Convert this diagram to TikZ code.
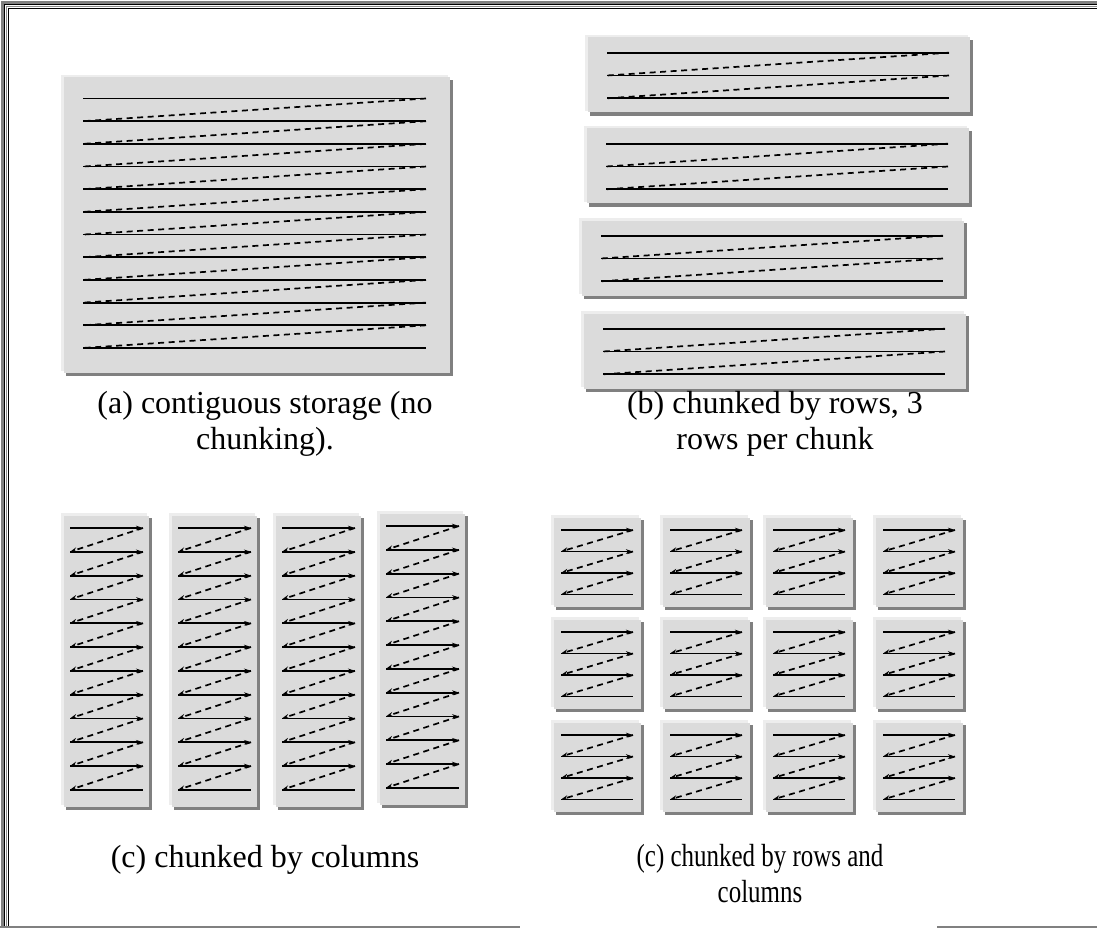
\documentclass[tikz,border=0pt]{standalone}
\usepackage{fontspec}
\setmainfont{Liberation Serif}
\usetikzlibrary{arrows.meta}
% one chunk: light edge, grey body, dark drop shadow
\newcommand{\chunkbox}[4]{%
  \fill[shadowgray] ({#1+5},{#2+5}) rectangle ++(#3,#4);
  \fill[edgegray] (#1,#2) rectangle ++(#3,#4);
  \fill[chunkgray] ({#1+2.5},{#2+2.5}) rectangle ++({#3-1},{#4-1});
}
% rows read left to right, dashed return to the next row
\newcommand{\zigzag}[6]{%
  \pgfmathtruncatemacro{\nlast}{#5-1}
  \foreach \k in {1,...,\nlast} {
    \draw[rowline,#6] (#1,{#3+(\k-1)*#4}) -- (#2,{#3+(\k-1)*#4});
    \draw[dashline,#6] (#2,{#3+(\k-1)*#4}) -- (#1,{#3+\k*#4});
  }
  \draw[rowline] (#1,{#3+\nlast*#4}) -- (#2,{#3+\nlast*#4});
}
\begin{document}
\begin{tikzpicture}[
  x=1pt,y=-1pt,
  shadowgray/.style={fill=black!50},
  edgegray/.style={fill=black!7},
  chunkgray/.style={fill=black!14},
  rowline/.style={draw=black, line width=1.8pt},
  dashline/.style={draw=black, line width=1.7pt, dash pattern=on 6pt off 4.5pt},
  arrowtip/.style={-{Stealth[length=7pt,width=4.5pt]}},
  noarrow/.style={},
  caption/.style={font=\fontsize{32}{36}\selectfont, align=center},
  framegray/.style={draw=black!50}
]
\path[use as bounding box] (0,0) rectangle (1097,928);

% Frame
\draw[framegray, line width=2.5pt] (2.5,928) -- (2.5,2.5) -- (1097,2.5);
\draw[black, line width=1.2pt] (4.8,928) -- (4.8,4.8) -- (1097,4.8);
\draw[black!45, line width=1.2pt] (6.4,928) -- (6.4,6.4) -- (1097,6.4);
\draw[black, line width=1.6pt] (8.4,928) -- (8.4,8.4) -- (1097,8.4);
\draw[framegray, line width=2pt] (0,926.5) -- (520,926.5);
\draw[framegray, line width=2pt] (937,926.5) -- (1097,926.5);

% (a) contiguous
\chunkbox{61}{75}{387}{296}
\zigzag{83}{426}{98.5}{22.68}{12}{noarrow}
\node[caption] (capa) at (265,424) {(a) contiguous storage (no\\chunking).};

% (b) chunked by rows
\foreach \bx/\by in {585/35,584/126,579/218,581/311} {
  \chunkbox{\bx}{\by}{383}{76}
  \zigzag{\bx+22}{\bx+364}{\by+17.7}{22.8}{3}{noarrow}
}
\node[caption] (capb) at (775,424) {(b) chunked by rows, 3\\rows per chunk};

% (c) chunked by columns
\foreach \bx/\by in {61/513,169/513,273/513,377/511} {
  \chunkbox{\bx}{\by}{86}{292}
  \zigzag{\bx+9}{\bx+82}{\by+15}{23.8}{12}{arrowtip}
}
\node[caption] (capc) at (265,860) {(c) chunked by columns};

% (d) chunked by rows and columns
\foreach \by in {515,617,720} {
  \foreach \bx in {551,660,763,873} {
    \chunkbox{\bx}{\by}{88}{90}
    \zigzag{\bx+10}{\bx+82}{\by+15}{21.5}{4}{arrowtip}
  }
}
\node[caption] (capd) at (760,877)
  {\scalebox{0.78}[1]{\begin{tabular}{@{}c@{}}(c) chunked by rows and\\columns\end{tabular}}};

\end{tikzpicture}
\end{document}
